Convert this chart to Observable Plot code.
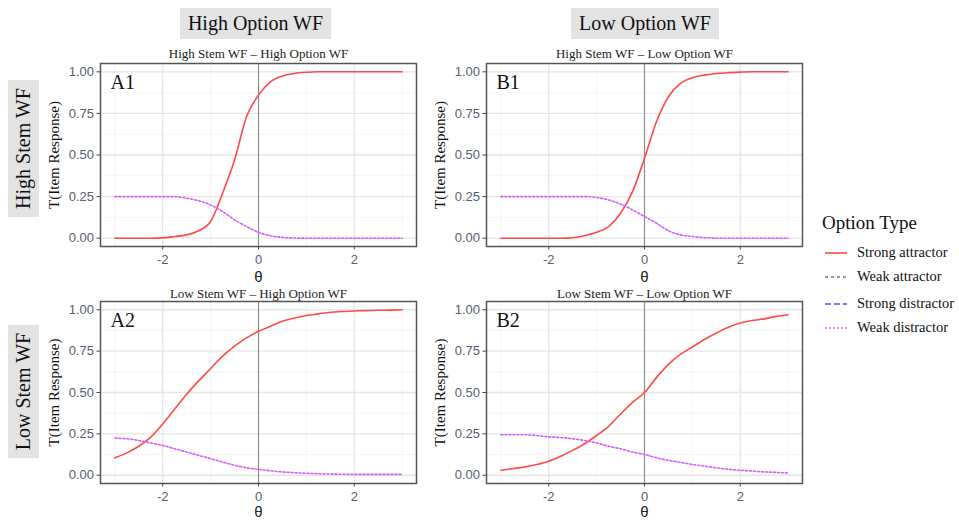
<!DOCTYPE html>
<html>
<head>
<meta charset="utf-8">
<script src="https://cdn.jsdelivr.net/npm/d3@7"></script>
<script src="https://cdn.jsdelivr.net/npm/@observablehq/plot@0.6"></script>
<style>
  html, body { margin: 0; padding: 0; background: #fff; }
  #root { position: relative; width: 959px; height: 520px; overflow: hidden; font-family: "Liberation Serif", "DejaVu Serif", serif; }
  .abs { position: absolute; }
  .strip { position: absolute; background: #e3e3e3; color: #111; font-size: 20px; display: flex; align-items: center; justify-content: center; white-space: nowrap; }
  .legend-title { position: absolute; font-size: 19px; color: #111; }
  .legend-item { position: absolute; font-size: 14.5px; color: #111; display: flex; align-items: center; white-space: nowrap; }
  .legend-item svg { margin-right: 9px; }
</style>
</head>
<body>
<div id="root"></div>
<script>
// ---------- data ----------
const theta = [-3, -2.75, -2.5, -2.25, -2, -1.75, -1.5, -1.25, -1, -0.75, -0.5, -0.25, 0,
               0.25, 0.5, 0.75, 1, 1.25, 1.5, 1.75, 2, 2.25, 2.5, 2.75, 3];

const A1_strongAttractor = [0, 0, 0, 0, 0.002, 0.01, 0.02, 0.045, 0.1, 0.27, 0.47, 0.73, 0.86,
                            0.94, 0.975, 0.99, 0.997, 1, 1, 1, 1, 1, 1, 1, 1];
const A1_weakDistractor  = [0.25, 0.25, 0.25, 0.25, 0.25, 0.25, 0.24, 0.225, 0.2, 0.16, 0.11, 0.07, 0.035,
                            0.015, 0.005, 0.001, 0, 0, 0, 0, 0, 0, 0, 0, 0];

const B1_strongAttractor = [0, 0, 0, 0, 0, 0, 0.003, 0.015, 0.035, 0.07, 0.15, 0.28, 0.48,
                            0.7, 0.85, 0.93, 0.965, 0.98, 0.99, 0.995, 0.998, 1, 1, 1, 1];
const B1_weakDistractor  = [0.25, 0.25, 0.25, 0.25, 0.25, 0.25, 0.25, 0.25, 0.245, 0.23, 0.205, 0.17, 0.13,
                            0.09, 0.045, 0.02, 0.01, 0.003, 0, 0, 0, 0, 0, 0, 0];

const A2_strongAttractor = [0.105, 0.135, 0.175, 0.23, 0.31, 0.4, 0.49, 0.57, 0.645, 0.72, 0.78, 0.83, 0.87,
                            0.9, 0.93, 0.95, 0.965, 0.975, 0.985, 0.99, 0.993, 0.995, 0.997, 0.998, 1];
const A2_weakDistractor  = [0.225, 0.22, 0.21, 0.195, 0.18, 0.16, 0.14, 0.12, 0.1, 0.08, 0.06, 0.045, 0.035,
                            0.027, 0.02, 0.015, 0.012, 0.009, 0.007, 0.006, 0.005, 0.005, 0.005, 0.005, 0.005];

const B2_strongAttractor = [0.03, 0.04, 0.05, 0.065, 0.085, 0.115, 0.15, 0.19, 0.24, 0.295, 0.37, 0.44, 0.5,
                            0.59, 0.67, 0.73, 0.775, 0.82, 0.86, 0.895, 0.92, 0.935, 0.945, 0.96, 0.97];
const B2_weakDistractor  = [0.245, 0.245, 0.245, 0.24, 0.232, 0.228, 0.22, 0.21, 0.195, 0.175, 0.16, 0.14, 0.126,
                            0.105, 0.09, 0.078, 0.065, 0.055, 0.045, 0.036, 0.03, 0.025, 0.02, 0.017, 0.013];

const columnLabels = ["High Option WF", "Low Option WF"];
const rowLabels = ["High Stem WF", "Low Stem WF"];
const panelTitles = ["High Stem WF \u2013 High Option WF", "High Stem WF \u2013 Low Option WF",
                     "Low Stem WF \u2013 High Option WF", "Low Stem WF \u2013 Low Option WF"];
const panelTags = ["A1", "B1", "A2", "B2"];
const optionTypes = ["Strong attractor", "Weak attractor", "Strong distractor", "Weak distractor"];
const legendTitle = "Option Type";
const xTicks = [-2, 0, 2];
const xMinor = [-3, -1, 1, 3];
const yTicks = [0, 0.25, 0.5, 0.75, 1];
const yMinor = [0.125, 0.375, 0.625, 0.875];
const xLabel = "\u03b8";
const yLabel = "T(Item Response)";

// ---------- styles ----------
const styles = {
  "Strong attractor":  {stroke: "#ff4a4a", dash: null,  width: 1.6},
  "Weak attractor":    {stroke: "#333333", dash: "3,3", width: 1.2},
  "Strong distractor": {stroke: "#4d4dff", dash: "6,3", width: 1.4},
  "Weak distractor":   {stroke: "#d75cff", dash: "2,2", width: 1.6}
};

const root = document.getElementById("root");

function place(el, left, top) {
  el.classList.add("abs");
  el.style.left = left + "px";
  el.style.top = top + "px";
  root.appendChild(el);
}

function rows(ser, vals) {
  return theta.map((t, i) => ({theta: t, value: vals[i], type: ser}));
}

const panels = [
  {data: [...rows("Strong attractor", A1_strongAttractor), ...rows("Weak distractor", A1_weakDistractor)], col: 0, row: 0},
  {data: [...rows("Strong attractor", B1_strongAttractor), ...rows("Weak distractor", B1_weakDistractor)], col: 1, row: 0},
  {data: [...rows("Strong attractor", A2_strongAttractor), ...rows("Weak distractor", A2_weakDistractor)], col: 0, row: 1},
  {data: [...rows("Strong attractor", B2_strongAttractor), ...rows("Weak distractor", B2_weakDistractor)], col: 1, row: 1}
];

const colGeom = [{left: 0, width: 420, ml: 100, mr: 4}, {left: 400, width: 406, ml: 86, mr: 4}];
const rowGeom = [
  {top: 39, height: 247, mt: 24, mb: 40, titleDy: -6, thetaDy: 31},
  {top: 275, height: 245, mt: 26, mb: 37, titleDy: -4, thetaDy: 29}
];

const tickColor = "#566070";
const sans = "Liberation Sans, Arial, sans-serif";
const serif = "Liberation Serif, Times New Roman, serif";

panels.forEach((p, idx) => {
  const cg = colGeom[p.col], rg = rowGeom[p.row];
  const lineMarks = ["Strong attractor", "Weak distractor"].map(t =>
    Plot.line(p.data.filter(d => d.type === t), {
      x: "theta", y: "value", stroke: styles[t].stroke, strokeWidth: styles[t].width,
      strokeDasharray: styles[t].dash, curve: "monotone-x"
    })
  );
  const chart = Plot.plot({
    width: cg.width, height: rg.height,
    marginLeft: cg.ml, marginRight: cg.mr, marginTop: rg.mt, marginBottom: rg.mb,
    style: {background: "transparent", overflow: "visible"},
    x: {domain: [-3.3, 3.3], axis: null},
    y: {domain: [-0.05, 1.05], axis: null},
    marks: [
      Plot.gridX(xMinor, {stroke: "#f2f2f2", strokeOpacity: 1, strokeWidth: 0.8}),
      Plot.gridY(yMinor, {stroke: "#f2f2f2", strokeOpacity: 1, strokeWidth: 0.8}),
      Plot.gridX(xTicks, {stroke: "#e6e6e6", strokeOpacity: 1, strokeWidth: 1.3}),
      Plot.gridY(yTicks, {stroke: "#e6e6e6", strokeOpacity: 1, strokeWidth: 1.3}),
      Plot.ruleX([0], {stroke: "#8a8a8a", strokeWidth: 1.1}),
      ...lineMarks,
      Plot.frame({stroke: "#555", strokeWidth: 1.5}),
      Plot.axisX(xTicks, {tickSize: 3.5, tickPadding: 5, stroke: "#444", fill: tickColor,
        fontSize: 13, fontFamily: sans, tickFormat: d => String(d), label: null}),
      Plot.axisY(yTicks, {tickSize: 3.5, tickPadding: 3, stroke: "#444", fill: tickColor,
        fontSize: 13, fontFamily: sans, tickFormat: d3.format(".2f"), label: null}),
      Plot.text([xLabel], {frameAnchor: "bottom", dy: rg.thetaDy, fontSize: 15, fontFamily: sans,
        fill: "#222", lineAnchor: "middle"}),
      Plot.text([yLabel], {frameAnchor: "left", dx: -46, rotate: -90, textAnchor: "middle",
        lineAnchor: "middle", fontSize: 15, fontFamily: serif, fill: "#111"}),
      Plot.text([panelTitles[idx]], {frameAnchor: "top", dy: rg.titleDy, lineAnchor: "bottom",
        fontSize: 13, fontFamily: serif, fill: "#222"}),
      Plot.text([panelTags[idx]], {frameAnchor: "top-left", dx: 10, dy: 11, textAnchor: "start",
        lineAnchor: "top", fontSize: 20, fontFamily: serif, fill: "#111"})
    ]
  });
  place(chart, cg.left, rg.top);
});

// column strips
const colStrip = [{left: 180, width: 151}, {left: 571, width: 148}];
columnLabels.forEach((lab, i) => {
  const d = document.createElement("div");
  d.className = "strip";
  d.textContent = lab;
  d.style.left = colStrip[i].left + "px";
  d.style.top = "8px";
  d.style.width = colStrip[i].width + "px";
  d.style.height = "31px";
  root.appendChild(d);
});

// row strips (rotated)
const rowStrip = [{top: 80, height: 137}, {top: 325, height: 133}];
rowLabels.forEach((lab, i) => {
  const d = document.createElement("div");
  d.className = "strip";
  d.textContent = lab;
  const w = rowStrip[i].height, h = 31;
  d.style.width = w + "px";
  d.style.height = h + "px";
  const cx = 23, cy = rowStrip[i].top + rowStrip[i].height / 2;
  d.style.left = (cx - w / 2) + "px";
  d.style.top = (cy - h / 2) + "px";
  d.style.transform = "rotate(-90deg)";
  root.appendChild(d);
});

// legend
const lt = document.createElement("div");
lt.className = "legend-title";
lt.textContent = legendTitle;
lt.style.left = "822px";
lt.style.top = "212px";
root.appendChild(lt);

const itemY = [253, 277, 304, 328];
optionTypes.forEach((t, i) => {
  const it = document.createElement("div");
  it.className = "legend-item";
  const s = styles[t];
  const sw = d3.create("svg").attr("width", 24).attr("height", 10);
  sw.append("line").attr("x1", 1).attr("x2", 23).attr("y1", 5).attr("y2", 5)
    .attr("stroke", s.stroke).attr("stroke-width", s.width)
    .attr("stroke-dasharray", s.dash);
  it.appendChild(sw.node());
  const sp = document.createElement("span");
  sp.textContent = t;
  it.appendChild(sp);
  it.style.left = "824px";
  it.style.top = (itemY[i] - 9) + "px";
  root.appendChild(it);
});
</script>
</body>
</html>
